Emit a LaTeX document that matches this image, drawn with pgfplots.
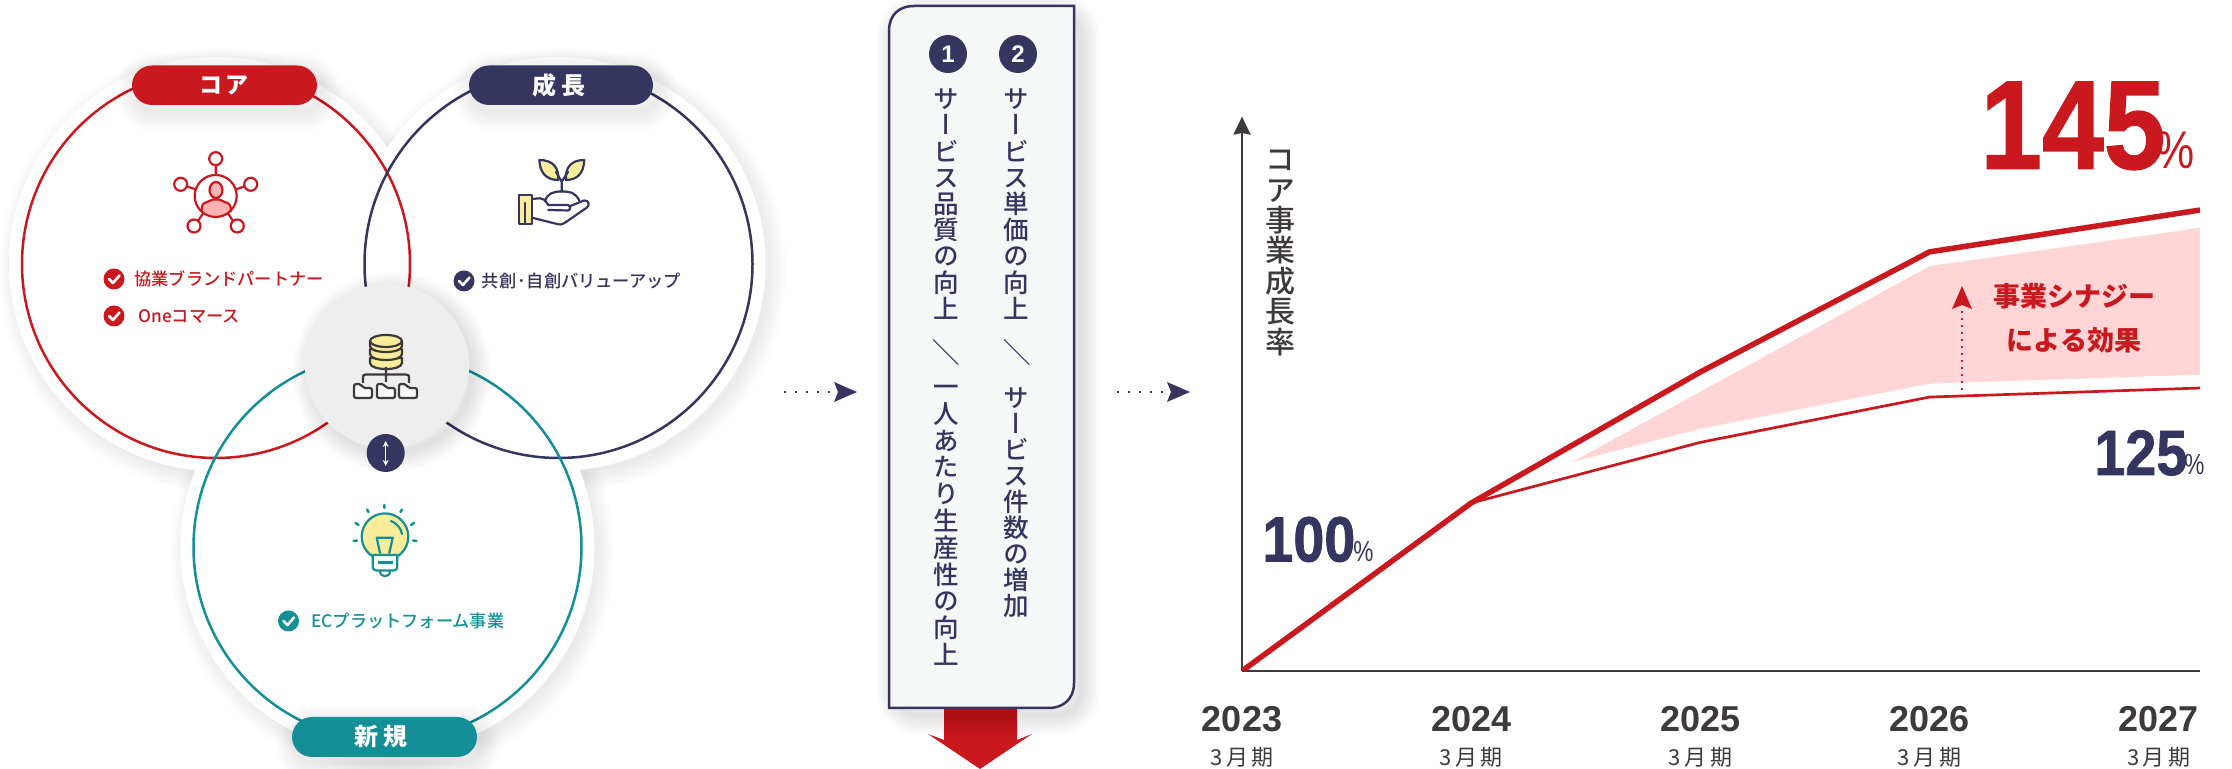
\documentclass[border=0pt]{standalone}
\usepackage{fontspec}
\usepackage{pgfplots}
\pgfplotsset{compat=1.18}
\usetikzlibrary{arrows.meta}
\setmainfont{Liberation Sans}
\newfontfamily\jp{Noto Sans CJK JP}
\newfontfamily\jpm{Noto Sans CJK JP Medium}
\newfontfamily\vjp{Noto Sans CJK JP Medium}[RawFeature=+vert]
\newfontfamily\heavy{Liberation Sans Bold}[FakeBold=1.2]
\definecolor{corered}{HTML}{C9181E}
\definecolor{navy}{HTML}{343660}
\definecolor{teal2}{HTML}{148E97}
\definecolor{ink}{HTML}{3E3A39}
\definecolor{band}{HTML}{FFD5D5}
\definecolor{yel}{HTML}{F9EC9A}
\definecolor{panel}{HTML}{F6F8F8}
\definecolor{disk}{HTML}{EEEEEE}
\definecolor{pink}{HTML}{FFB3B3}
% soft shadow: a stack of faint strokes of growing width along a path
\newcommand{\softshadow}[2][.009]{%
  \foreach \w in {4,8,...,40} {\draw[black,draw opacity=#1,line width=\w*.5pt] #2;}}
\newcommand{\checkbadge}[3]{%
  \fill[#3] (#1,#2) circle (10.5);
  \draw[white,line width=1.3pt,line cap=round,line join=round] (#1-5,#2) -- (#1-1,#2+4) -- (#1+5.5,#2-3.5);}
% vertical setting: characters stacked one below the other
% #1 x, #2 top y, #3 step, #4 colour, #5 size in pt, #6 characters
\newcommand{\vcolumn}[6]{%
  \foreach \c [count=\i from 0] in {#6} {%
    \node[inner sep=0,#4,text height=.88em,text depth=.12em,font=\vjp\fontsize{#5}{#5}\selectfont] at (#1,{#2+#3*(\i+.5)}) {\c};}}
\begin{document}
\begin{tikzpicture}
\path[use as bounding box] (0,0) rectangle (1116pt,384.5pt);
\begin{scope}[x=.5pt,y=-.5pt,shift={(0pt,384.5pt)}]
  % three business circles with their white halos
  \softshadow{(221,270) circle (203)}
  \softshadow{(564,270) circle (203)}
  \softshadow{(392,553) circle (203)}
  \fill[white] (216,264) circle (207) (558.5,264) circle (207) (387.5,547) circle (207);
  \draw[corered,line width=1.25pt] (216,264) circle (194);
  \draw[navy,line width=1.25pt] (558.5,264) circle (194);
  \draw[teal2,line width=1.25pt] (387.5,547) circle (194);
  % name pills
  \softshadow[.008]{[rounded corners=9pt] (136,72) rectangle (321,112)}
  \softshadow[.008]{[rounded corners=9pt] (473,72) rectangle (657,112)}
  \softshadow[.008]{[rounded corners=9pt] (296,724) rectangle (481,764)}
  \fill[corered,rounded corners=10pt] (132,65.5) rectangle (317,105);
  \fill[navy,rounded corners=10pt] (469,65.5) rectangle (653,105);
  \fill[teal2,rounded corners=10pt] (292,717) rectangle (477,757);
  \node[white,font=\jp\bfseries\fontsize{11.5}{12}\selectfont] at (224,85) {コ\hspace{2pt}ア};
  \node[white,font=\jp\bfseries\fontsize{12}{12}\selectfont] at (559,85) {成\hspace{2.5pt}長};
  \node[white,font=\jp\bfseries\fontsize{12}{12}\selectfont] at (381,737) {新\hspace{2.5pt}規};
  % hub in the middle
  \softshadow[.012]{(392,372) circle (80)}
  \fill[disk] (387,366) circle (82);
  \fill[navy] (385.7,453) circle (19);
  \draw[white,line width=.5pt,{Stealth[length=3pt,width=3pt]}-{Stealth[length=3pt,width=3pt]}] (385.7,441) -- (385.7,466);
  % database icon
  \begin{scope}[ink,line width=1.1pt,line join=round]
    \foreach \y in {358,349,341}{
      \filldraw[fill=yel] (370,\y) -- (370,\y+5) .. controls (370,\y+13) and (402,\y+13) .. (402,\y+5) -- (402,\y) -- cycle;}
    \filldraw[fill=yel] (386,341) ellipse (16 and 6);
    \draw (386,367) -- (386,382) (363,383) -- (363,378) .. controls (363,375) .. (366,374.5) -- (406,374.5) .. controls (409,375) .. (409,378) -- (409,383);
    \foreach \x in {354,377,399}{
      \filldraw[fill=panel,rounded corners=1pt] (\x,384) -- (\x+7,384) -- (\x+9,388) -- (\x+18,388) -- (\x+18,398) -- (\x,398) -- cycle;}
  \end{scope}
  % network icon
  \begin{scope}[corered,line width=1.1pt,line join=round]
    \fill[pink] (201.7,211.7) .. controls (202,205) .. (204,203.3) -- (213,199.5) -- (219,199.5) -- (228,203.3) .. controls (230.5,205) .. (231,211.7) .. controls (225,217.5) and (207,217.5) .. cycle;
    \draw (201.7,211.7) .. controls (202,205) .. (204,203.3) -- (213,199.5) -- (219,199.5) -- (228,203.3) .. controls (230.5,205) .. (231,211.7);
    \filldraw[fill=pink] (216,190) ellipse (6.5 and 8);
    \draw (215.7,196) circle (21);
    \foreach \x/\y in {215.7/158.7,180.7/184.3,250.7/184.3,194/226,237.3/226} \draw (\x,\y) circle (6.5);
    \draw (215.7,165.2) -- (215.7,175) (187,186.5) -- (196,189.5) (244.5,186.5) -- (235.5,189.5)
          (198,221) -- (203,213.5) (233,221) -- (228,213.5);
  \end{scope}
  % seedling in a hand
  \begin{scope}[navy,line width=1.1pt,line join=round,line cap=round]
    \filldraw[fill=yel] (539.3,160) .. controls (553.3,160) and (559,168) .. (558.3,180) .. controls (546.7,180) and (540,173.3) .. cycle;
    \filldraw[fill=yel] (584.3,160) .. controls (570.7,160) and (565,168) .. (566,180) .. controls (577.3,180) and (583.7,173.3) .. cycle;
    \draw (561.7,191.7) -- (561.7,181.7) (561.7,181.7) -- (556,172) (561.7,181.7) -- (568,172);
    \draw (545,200.7) .. controls (548,193.3) and (553,191.5) .. (561.7,191.5) .. controls (571,191.5) and (576,193.3) .. (579.3,200.7);
    \filldraw[fill=yel] (519.3,195) rectangle (531.7,224.3);
    \draw (525,203) -- (525,224.3);
    \draw (531.7,199) -- (540,198.3) .. controls (544,199) .. (548.3,205) -- (568,205) .. controls (571,206) and (571,209.5) .. (568,210.5) -- (548.3,210);
    \draw (569,206.5) -- (584,200.5) .. controls (589,200) and (590,205) .. (587,207.5) -- (566,222) .. controls (561,225) .. (555,223.5) -- (533,218);
  \end{scope}
  % light bulb
  \begin{scope}[teal2,line width=1.1pt,line join=round,line cap=round]
    \filldraw[fill=yel] (385,536.7) circle (23.3);
    \filldraw[fill=white] (372.7,555) -- (397.3,555) -- (397.3,566) .. controls (397.3,569) .. (394,570.5) -- (376,570.5) .. controls (372.7,569) .. (372.7,566) -- cycle;
    \draw[line width=1.5pt,line cap=butt] (378,563) -- (393,563);
    \draw (380,571) .. controls (380,578) and (390,578) .. (390,571);
    \draw (376.7,537.7) -- (392.7,537.7) -- (389.3,553) (376.7,537.7) -- (380,553);
    \draw (391,521) .. controls (398,524) and (401,529) .. (402,534);
    \draw[line width=1.25pt] (384.3,505) -- (384.3,508) (367,509.5) -- (368.5,512) (402,509.5) -- (400.5,512)
      (355.5,523) -- (358.5,525) (414,523) -- (411,525) (353.5,541) -- (357,540.5) (416.5,541) -- (413,540.5);
  \end{scope}
  % item lists
  \checkbadge{114}{279}{corered}
  \checkbadge{114}{316}{corered}
  \checkbadge{464}{281}{navy}
  \checkbadge{288.5}{621}{teal2}
  \node[anchor=west,inner sep=0,corered,font=\jpm\fontsize{8.6}{9}\selectfont] at (134,279) {協業ブランドパートナー};
  \node[anchor=west,inner sep=0,corered,font=\jpm\fontsize{8.6}{9}\selectfont] at (138,317) {Oneコマース};
  \node[anchor=west,inner sep=0,navy,font=\jpm\fontsize{8.6}{9}\selectfont] at (481.5,281) {共創\hspace{.5pt}･\hspace{.5pt}自創バリューアップ};
  \node[anchor=west,inner sep=0,teal2,font=\jpm\fontsize{8.6}{9}\selectfont] at (311,621) {ECプラットフォーム事業};
  % dotted flow arrows between the panels
  \foreach \s in {784,1117}{
    \draw[navy,line width=1pt,dash pattern=on 1.2pt off 4.3pt] (\s,392) -- (\s+50,392);
    \fill[navy] (\s+50,382) -- (\s+73,392) -- (\s+50,402) -- (\s+54,392) -- cycle;}
  % driver panel and the red arrow below it
  \fill[corered] (944,706) -- (1017,706) -- (1017,740) -- (1032,734) -- (980,769) -- (928,734) -- (944,740) -- cycle;
  \softshadow[.011]{[rounded corners=12pt] (896,14) -- (896,715) -- (1081,715) -- (1081,14) -- cycle}
  \draw[navy,fill=panel,line width=1.25pt] (889,708) -- (889,31) .. controls (889,14) and (900,6) .. (914,6) -- (1074,6) -- (1074,683) .. controls (1074,700) and (1062,708) .. (1049,708) -- cycle;
  \fill[navy] (948,54) circle (19) (1018,54) circle (19);
  \node[white,font=\bfseries\fontsize{12}{12}\selectfont] at (948,54) {1};
  \node[white,font=\bfseries\fontsize{12}{12}\selectfont] at (1018,54) {2};
  \vcolumn{946}{88}{26.2}{navy}{12.8}{サ,ー,ビ,ス,品,質,の,向,上}
  \node[rotate=-90,inner sep=0,navy,font=\jp\fontsize{14}{14}\selectfont] at (946,353) {／};
  \vcolumn{946}{375.6}{26.8}{navy}{12.8}{一,人,あ,た,り,生,産,性,の,向,上}
  \vcolumn{1016.7}{88}{26.2}{navy}{12.8}{サ,ー,ビ,ス,単,価,の,向,上}
  \node[rotate=-90,inner sep=0,navy,font=\jp\fontsize{14}{14}\selectfont] at (1016.7,353) {／};
  \vcolumn{1016.7}{387}{26}{navy}{12.8}{サ,ー,ビ,ス,件,数,の,増,加}
  % axis caption, set vertically
  \vcolumn{1280}{148}{30.4}{ink}{15}{コ,ア,事,業,成,長,率}
\end{scope}

% growth chart; the vertical scale is drawn schematically in two straight pieces
\begin{axis}[
  at={(621pt,49pt)},anchor=south west,
  scale only axis,width=479pt,height=277.2pt,
  xmin=2023,xmax=2027.18,ymin=100,ymax=155.5,
  y coord trafo/.code={\pgfmathparse{#1<=125 ? (#1-100)*11.32 : 283+(#1-125)*8.9}},
  axis x line=bottom,axis y line=left,
  axis line style={ink,line width=1.25pt},
  x axis line style={-},
  y axis line style={-{Stealth[length=9pt,width=8.5pt,inset=.8pt]}},
  ytick=\empty,
  xtick={2023,2024,2025,2026,2027},
  xticklabels={
    {2023\\[-1pt]{\jp\mdseries\fontsize{11}{11}\selectfont 3\,月\,期}},
    {2024\\[-1pt]{\jp\mdseries\fontsize{11}{11}\selectfont 3\,月\,期}},
    {2025\\[-1pt]{\jp\mdseries\fontsize{11}{11}\selectfont 3\,月\,期}},
    {2026\\[-1pt]{\jp\mdseries\fontsize{11}{11}\selectfont 3\,月\,期}},
    {2027\\[-1pt]{\jp\mdseries\fontsize{11}{11}\selectfont 3\,月\,期}}},
  major tick length=0pt,
  xticklabel style={align=center,text=ink,font=\bfseries\fontsize{18}{18}\selectfont,yshift=-14pt},
]
\addplot[draw=none,fill=band] coordinates {
  (2024.44,118.46) (2026,138.7) (2027.18,143) (2027.18,126.5) (2026,125.5) (2025,121.4)} -- cycle;
\addplot[corered,line width=1.35pt] coordinates {
  (2024,114.84) (2025,120.2) (2026,124.2) (2027.18,125)};
\addplot[corered,line width=2.75pt,line join=round] coordinates {
  (2023,100) (2024,114.84) (2025,126.8) (2026,140.3) (2027.18,145)};
\end{axis}

\begin{scope}[x=.5pt,y=-.5pt,shift={(0pt,384.5pt)}]
  \node[anchor=base west,inner sep=0,corered,font=\heavy\fontsize{63}{63}\selectfont] at (1980,168.6) {\scalebox{.88}[1]{145}};
  \node[anchor=base west,inner sep=0,corered,font=\fontsize{26.5}{26.5}\selectfont] at (2155,168.6) {\scalebox{.83}[1]{\%}};
  \node[anchor=base west,inner sep=0,navy,font=\heavy\fontsize{32}{32}\selectfont] at (2094,475) {\scalebox{.87}[1]{125}};
  \node[anchor=base west,inner sep=0,navy,font=\fontsize{14.5}{14.5}\selectfont] at (2184,475) {\scalebox{.78}[1]{\%}};
  \node[anchor=base west,inner sep=0,navy,font=\heavy\fontsize{32}{32}\selectfont] at (1262,561.5) {\scalebox{.87}[1]{100}};
  \node[anchor=base west,inner sep=0,navy,font=\fontsize{14.5}{14.5}\selectfont] at (1353,561.5) {\scalebox{.78}[1]{\%}};
  \node[corered,font=\jp\bfseries\fontsize{13.5}{13.5}\selectfont] at (2074,296) {事業シナジー};
  \node[corered,font=\jp\bfseries\fontsize{13.5}{13.5}\selectfont] at (2074,340) {による効果};
  \draw[corered,line width=1.1pt,dash pattern=on 1pt off 2.5pt] (1962,397) -- (1962,308);
  \fill[corered] (1962,286) -- (1972,309) -- (1962,305) -- (1952,309) -- cycle;
\end{scope}
\end{tikzpicture}
\end{document}
